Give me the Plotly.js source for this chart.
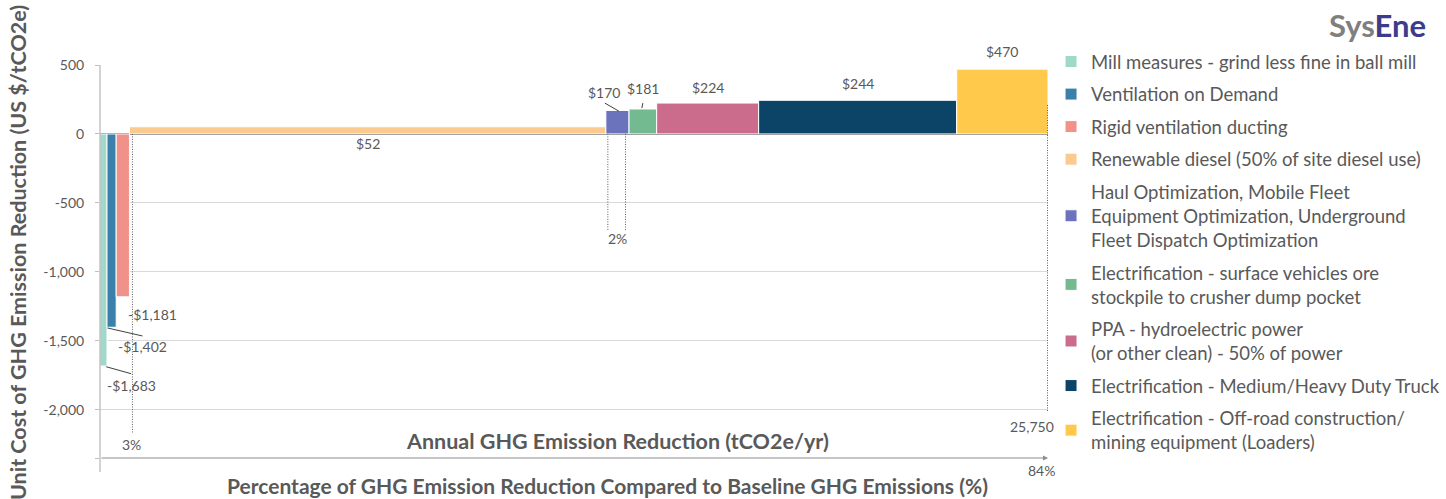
<!DOCTYPE html>
<html><head><meta charset="utf-8">
<script src="https://cdn.plot.ly/plotly-3.0.1.min.js"></script>
<style>html,body{margin:0;padding:0;background:#fff;} #chart{width:1446px;height:499px;}</style>
</head><body><div id="chart"></div>
<script>
// ---- data ----
const categories = [
  "Mill measures - grind less fine in ball mill",
  "Ventilation on Demand",
  "Rigid ventilation ducting",
  "Renewable diesel (50% of site diesel use)",
  "Haul Optimization, Mobile Fleet<br>Equipment Optimization, Underground<br>Fleet Dispatch Optimization",
  "Electrification - surface vehicles ore<br>stockpile to crusher dump pocket",
  "PPA - hydroelectric power<br>(or other clean) - 50% of power",
  "Electrification - Medium/Heavy Duty Truck",
  "Electrification - Off-road construction/<br>mining equipment (Loaders)"
];
const reduction = [190, 250, 360, 12940, 630, 750, 2770, 5380, 2480];   // tCO2e/yr (bar widths)
const unitCost = [-1683, -1402, -1181, 52, 170, 181, 224, 244, 470];    // US $/tCO2e (bar heights)
const colors = ["#9fd9c9","#3a80aa","#f0918a","#fbca8e","#6b73bd","#73ba90","#cb6c8c","#0c4468","#ffc94c"];
const yTickVals = [500, 0, -500, -1000, -1500, -2000];
const yTickText = ["500", "0", "-500", "-1,000", "-1,500", "-2,000"];
const totalReductionLabel = "25,750";
const pctLabels = ["3%", "2%", "84%"];
const yBottom = -2350;

// ---- derived positions ----
const starts = [], ends = [], mids = [];
let cum = 0;
reduction.forEach(w => { starts.push(cum); cum += w; ends.push(cum); mids.push(cum - w / 2); });
const total = cum;

const FONT = "Lato, 'Open Sans', sans-serif";
const GREY = "#595959";

const traces = categories.map((name, i) => ({
  type: "bar",
  name: name,
  x: [mids[i]],
  y: [unitCost[i]],
  width: [reduction[i]],
  marker: { color: colors[i], line: { color: "#ffffff", width: 1 } },
  legendgroup: "g" + i,
  hovertemplate: name.replace(/<br>/g, " ") + "<br>%{y}<extra></extra>"
}));

function money(v) { return (v < 0 ? "-" : "") + "$" + Math.abs(v).toLocaleString("en-US"); }

const labelPlace = [
  { a: "start", dx: 31.5, dy: -19.7 },
  { a: "start", dx: 36, dy: -19.7 },
  { a: "start", dx: 36.7, dy: -17.3 },
  { a: "mid", dx: 0, dy: -17 },
  { a: "start", dx: -1.5, dy: 18.4 },
  { a: "mid", dx: 0, dy: 20 },
  { a: "mid", dx: 0, dy: 16 },
  { a: "mid", dx: 0, dy: 17 },
  { a: "mid", dx: 0, dy: 18 }
];
function ax(i, a) { return a === "start" ? starts[i] : a === "end" ? ends[i] : mids[i]; }

const small = { family: FONT, size: 14, color: GREY };
const annotations = unitCost.map((v, i) => ({
  x: ax(i, labelPlace[i].a), y: v, xref: "x", yref: "y",
  text: money(v), showarrow: false, xanchor: "center", yanchor: "middle",
  xshift: labelPlace[i].dx, yshift: labelPlace[i].dy, font: small
}));

annotations.push(
  { x: ends[2], y: 0.0356, xref: "x", yref: "paper", text: pctLabels[0], showarrow: false,
    xanchor: "center", yanchor: "middle", xshift: 2, font: small },
  { x: mids[4], y: 0, xref: "x", yref: "y", text: pctLabels[1], showarrow: false,
    xanchor: "center", yanchor: "middle", yshift: -105, font: small },
  { x: total, y: -0.033, xref: "x", yref: "paper", text: pctLabels[2], showarrow: false,
    xanchor: "center", yanchor: "middle", xshift: -7, font: small },
  { x: total, y: 0.0789, xref: "x", yref: "paper", text: totalReductionLabel, showarrow: false,
    xanchor: "center", yanchor: "middle", xshift: -16, font: small },
  { x: 0.5454, y: 0.0433, xref: "paper", yref: "paper", showarrow: false,
    xanchor: "center", yanchor: "middle",
    text: "<b>Annual GHG Emission Reduction (tCO2e/yr)</b>",
    font: { family: FONT, size: 21.5, color: GREY } },
  { x: 0.5353, y: -0.0712, xref: "paper", yref: "paper", showarrow: false,
    xanchor: "center", yanchor: "middle", borderpad: 0,
    text: "<b>Percentage of GHG Emission Reduction Compared to Baseline GHG Emissions (%)</b>",
    font: { family: FONT, size: 21, color: GREY } },
  { x: -0.0865, y: 0.524, xref: "paper", yref: "paper", showarrow: false,
    xanchor: "center", yanchor: "middle", textangle: -90,
    text: "<b>Unit Cost of GHG Emission Reduction (US $/tCO2e)</b>",
    font: { family: FONT, size: 21.5, color: GREY } },
  { x: total, y: yBottom, xref: "x", yref: "y", ax: 0, ay: yBottom, axref: "x", ayref: "y",
    showarrow: true, arrowhead: 2, arrowsize: 1, arrowwidth: 1, arrowcolor: "#8c8c8c", text: "" },
  { x: 1.4008, y: 1.102, xref: "paper", yref: "paper", showarrow: false,
    xanchor: "right", yanchor: "middle",
    text: "<b><span style='color:#7f7f7f'>Sys</span><span style='color:#3c3c8c'>Ene</span></b>",
    font: { family: FONT, size: 31 } }
);

function pxLine(xa, ya, x0, y0, x1, y1, dash, color) {
  return { type: "line", xref: "x", yref: "y", xsizemode: "pixel", ysizemode: "pixel",
    xanchor: xa, yanchor: ya, x0: x0, x1: x1, y0: y0, y1: y1,
    line: { color: color || "#404040", width: 1, dash: dash || "solid" } };
}
const DOT = "1px,1.5px";
const shapes = [
  { type: "line", xref: "paper", yref: "paper", x0: 0, x1: 0, y0: 1, y1: -0.0356,
    line: { color: "#a6a6a6", width: 1 } },
  pxLine(starts[0], unitCost[0], 6.2, -0.7, 31.2, -7.7),
  pxLine(starts[1], unitCost[1], 0.5, -0.7, 35.5, -8.7),
  pxLine(starts[4], unitCost[4], -1, 7.4, 13, -0.6),
  pxLine(mids[5], unitCost[5], 0, 5.9, -1, 0.9),
  pxLine(ends[2], 0, 3, 0, 3, -299, DOT, "#595959"),
  pxLine(starts[4], 0, 2, 0, 2, -96, DOT, "#595959"),
  pxLine(ends[4], 0, -3.5, 0, -3.5, -96, DOT, "#595959"),
  pxLine(total, 0, -0.5, 29, -0.5, -277, DOT, "#595959")
];

const layout = {
  width: 1446, height: 499,
  margin: { l: 100, r: 398, t: 65, b: 41, autoexpand: false },
  paper_bgcolor: "#ffffff", plot_bgcolor: "#ffffff",
  font: { family: FONT, color: GREY },
  barmode: "overlay",
  showlegend: true,
  legend: {
    x: 1.0032, xanchor: "left", y: 1.056, yanchor: "top",
    font: { family: FONT, size: 18.5, color: GREY },
    tracegroupgap: 5.5, bgcolor: "rgba(0,0,0,0)", maxheight: 1
  },
  xaxis: {
    range: [0, total], showgrid: false, zeroline: false, showticklabels: false, showline: false,
    ticks: "", fixedrange: true
  },
  yaxis: {
    range: [yBottom, 500],
    tickvals: yTickVals.concat([yBottom]), ticktext: yTickText.concat([""]),
    showgrid: true, gridcolor: "#d9d9d9", gridwidth: 1,
    zeroline: true, zerolinecolor: "#595959", zerolinewidth: 1.5,
    showline: false, ticks: "outside", ticklen: 4, tickcolor: "#bfbfbf",
    ticklabelstandoff: 8,
    tickfont: small
  },
  annotations: annotations,
  shapes: shapes
};

Plotly.newPlot("chart", traces, layout, { displayModeBar: false, staticPlot: true });
</script>
</body></html>
